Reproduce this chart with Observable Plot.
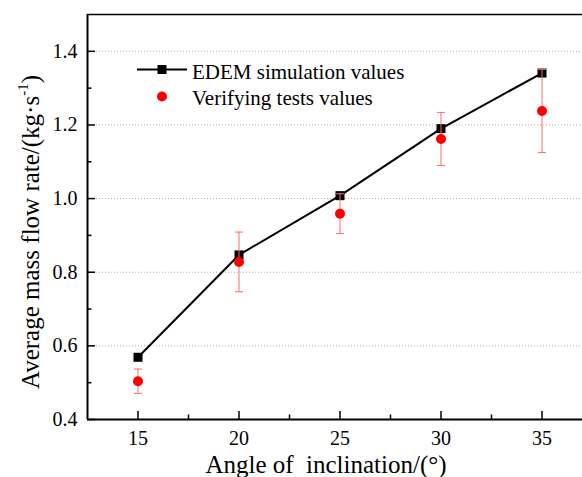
<!DOCTYPE html>
<html><head><meta charset="utf-8">
<script src="https://cdn.jsdelivr.net/npm/d3@7"></script>
<script src="https://cdn.jsdelivr.net/npm/@observablehq/plot@0.6"></script>
<style>
html,body{margin:0;padding:0;background:#fff;overflow:hidden}
#wrap{position:relative;width:582px;height:477px;overflow:hidden;font-family:"Liberation Serif","Times New Roman",serif;color:#000}
#chart{position:absolute;left:0;top:0;width:592px}
#chart svg{max-width:none !important}
#chart svg text{font-family:"Liberation Serif","Times New Roman",serif !important;font-size:20px !important;fill:#000}
.lab{position:absolute;white-space:nowrap;font-size:25px;line-height:1}
.lab sup{font-size:0.6em;line-height:0;vertical-align:0.7em}
#legend{position:absolute;left:0;top:0;pointer-events:none}
</style>
</head><body>
<div id="wrap">
  <div id="chart"></div>
  <svg id="legend" width="582" height="477" font-family="Liberation Serif, Times New Roman, serif">
    <line x1="137" x2="187" y1="69.5" y2="69.5" stroke="#000" stroke-width="2"/>
    <rect x="157.5" y="65" width="9" height="9" fill="#000"/>
    <text x="192" y="79" font-size="21">EDEM simulation values</text>
    <circle cx="162" cy="96.5" r="5" fill="#ff0000"/>
    <text x="192" y="104.5" font-size="21">Verifying tests values</text>
  </svg>
  <div class="lab" id="xlab" style="left:326px;top:452px;transform:translateX(-50%)">Angle of&nbsp; inclination/(°)</div>
  <div class="lab" id="ylab" style="left:30px;top:232px;transform:translate(-50%,-50%) rotate(-90deg)">Average mass flow rate/(kg·s<sup>-1</sup>)</div>
</div>
<script>
// Data
const angles = [15, 20, 25, 30, 35];
const edemValues = [0.569, 0.847, 1.008, 1.190, 1.341];
const testValues = [0.504, 0.828, 0.959, 1.162, 1.238];
const testErrors = [0.033, 0.081, 0.054, 0.072, 0.113];

const xDomain = [12.5, 37.5];
const yDomain = [0.4, 1.5];
const xMajorTicks = [15, 20, 25, 30, 35];
const xMinorTicks = [17.5, 22.5, 27.5, 32.5];
const yMajorTicks = [0.4, 0.6, 0.8, 1.0, 1.2, 1.4];
const yMinorTicks = [0.5, 0.7, 0.9, 1.1, 1.3];
const yGrid = [0.6, 0.8, 1.0, 1.2, 1.4];

const edem = angles.map((a, i) => ({angle: a, value: edemValues[i]}));
const tests = angles.map((a, i) => ({angle: a, value: testValues[i], lo: testValues[i] - testErrors[i], hi: testValues[i] + testErrors[i]}));
const caps = tests.flatMap(d => [{angle: d.angle, v: d.lo}, {angle: d.angle, v: d.hi}]);

const capSymbol = {draw(ctx, size) { const w = Math.sqrt(size) / 2; ctx.moveTo(-w, 0); ctx.lineTo(w, 0); }};
const errColor = "#ff6b6b";
const noText = () => "";
const majorLen = 8, minorLen = 4.5;

const chart = Plot.plot({
  width: 592,
  height: 477,
  marginLeft: 87,
  marginRight: 0,
  marginTop: 14,
  marginBottom: 58,
  style: {background: "transparent", overflow: "visible", maxWidth: "none"},
  x: {domain: xDomain},
  y: {domain: yDomain},
  marks: [
    Plot.ruleY(yGrid, {stroke: "#b0b0b0", strokeWidth: 1, strokeDasharray: "1,2"}),
    // tick labels
    Plot.axisX(xMajorTicks, {anchor: "bottom", tickSize: 0, tickPadding: 11, label: null, tickFormat: d => String(d)}),
    Plot.axisY(yMajorTicks, {anchor: "left", tickSize: 0, tickPadding: 10, label: null, tickFormat: d => d.toFixed(1)}),
    // inward tick marks (axis ticks shifted inside the frame)
    Plot.axisX(xMajorTicks, {anchor: "bottom", tickSize: majorLen, dy: -majorLen, tickFormat: noText, label: null, strokeWidth: 1.5}),
    Plot.axisX(xMinorTicks, {anchor: "bottom", tickSize: minorLen, dy: -minorLen, tickFormat: noText, label: null, strokeWidth: 1.5}),
    Plot.axisY(yMajorTicks, {anchor: "left", tickSize: majorLen, dx: majorLen, tickFormat: noText, label: null, strokeWidth: 1.5}),
    Plot.axisY(yMinorTicks, {anchor: "left", tickSize: minorLen, dx: minorLen, tickFormat: noText, label: null, strokeWidth: 1.5}),
    Plot.ruleY([yDomain[1]], {stroke: "#000", strokeWidth: 1.5}),
    Plot.ruleX([xDomain[0]], {stroke: "#000", strokeWidth: 2}),
    Plot.ruleY([yDomain[0]], {stroke: "#000", strokeWidth: 2}),
    Plot.line(edem, {x: "angle", y: "value", stroke: "#000", strokeWidth: 2}),
    Plot.dot(edem, {x: "angle", y: "value", symbol: "square", r: 5.1, fill: "#000", stroke: "none"}),
    Plot.ruleX(tests, {x: "angle", y1: "lo", y2: "hi", stroke: errColor, strokeWidth: 1}),
    Plot.dot(caps, {x: "angle", y: "v", symbol: capSymbol, r: 4.6, stroke: errColor, strokeWidth: 1, fill: "none"}),
    Plot.dot(tests, {x: "angle", y: "value", r: 5, fill: "#ff0000", stroke: "none"})
  ]
});
document.getElementById("chart").appendChild(chart);
</script>
</body></html>
